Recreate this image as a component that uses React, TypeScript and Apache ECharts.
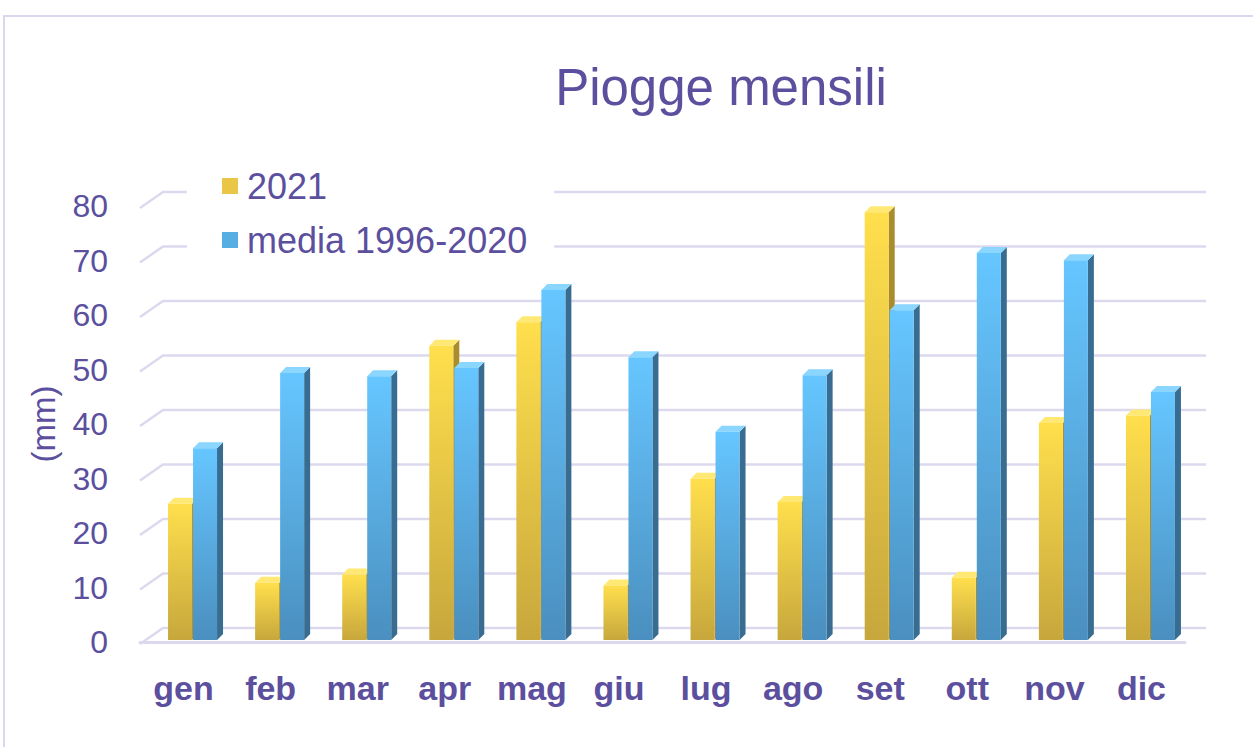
import React, { useEffect, useRef } from "react";
import * as echarts from "echarts";

const months = ["gen", "feb", "mar", "apr", "mag", "giu", "lug", "ago", "set", "ott", "nov", "dic"];
const rain2021 = [25, 10.5, 12, 54, 58.3, 10, 29.6, 25.3, 78.5, 11.4, 39.8, 41.2];
const media = [35.2, 49, 48.4, 49.9, 64.2, 51.9, 38.2, 48.6, 60.5, 71, 69.7, 45.5];
const yTicks = [0, 10, 20, 30, 40, 50, 60, 70, 80];

const TXT = "#5B4F9E";
const GRID = "#dcd9ef";

function makeBar(offset: number, front: any, side: string, top: string) {
  return (params: any, api: any) => {
    const idx = api.value(0);
    const v = api.value(1);
    const base = api.coord([idx, 0]);
    const tp = api.coord([idx, v]);
    const w = 24;
    const d = 6;
    const dh = 6;
    const x0 = base[0] + offset;
    const y0 = base[1] - 2;
    const y1 = tp[1] - 2;
    return {
      type: "group",
      children: [
        {
          type: "polygon",
          shape: { points: [[x0 + w, y1], [x0 + w + d, y1 - dh], [x0 + w + d, y0 - dh], [x0 + w, y0]] },
          style: { fill: side },
        },
        {
          type: "polygon",
          shape: { points: [[x0, y1], [x0 + d, y1 - dh], [x0 + w + d, y1 - dh], [x0 + w, y1]] },
          style: { fill: top },
        },
        {
          type: "rect",
          shape: { x: x0, y: y1, width: w, height: y0 - y1 },
          style: { fill: front },
        },
      ],
    };
  };
}

const yellowFront = new echarts.graphic.LinearGradient(0, 0, 0, 1, [
  { offset: 0, color: "#FFDF4C" },
  { offset: 1, color: "#C7A73C" },
]);
const blueFront = new echarts.graphic.LinearGradient(0, 0, 0, 1, [
  { offset: 0, color: "#66C6FF" },
  { offset: 1, color: "#4A8FBF" },
]);

export default function App() {
  const ref = useRef<HTMLDivElement>(null);
  useEffect(() => {
    document.body.style.margin = "0";
    const chart = echarts.init(ref.current!, null, { renderer: "svg" });
    const option: any = {
      animation: false,
      backgroundColor: "#ffffff",
      textStyle: { fontFamily: "Liberation Sans, Arial, sans-serif" },
      graphic: [
        {
          type: "rect",
          shape: { x: 4, y: 16, width: 1270, height: 760 },
          style: { fill: "none", stroke: "#d9d6ee", lineWidth: 2 },
          z: -10,
        },
      ],
      title: {
        text: "Piogge mensili",
        left: 716,
        textAlign: "center",
        top: 57,
        textStyle: { fontSize: 51, fontWeight: "normal", color: TXT, fontFamily: "Liberation Sans, Arial, sans-serif" },
      },
      legend: {
        orient: "vertical",
        left: 187,
        top: 160,
        padding: [8, 27, 8, 35],
        backgroundColor: "#ffffff",
        icon: "rect",
        itemWidth: 16,
        itemHeight: 16,
        itemGap: 18,
        data: ["2021", "media 1996-2020"],
        textStyle: { fontSize: 36, color: TXT, lineHeight: 35, padding: [0, 0, 0, 4] },
        z: 5,
      },
      grid: { left: 140, right: 68, top: 206, bottom: 105 },
      xAxis: {
        type: "category",
        data: months,
        offset: 2,
        axisTick: { show: false },
        axisLine: { show: true, lineStyle: { color: GRID, width: 3 } },
        axisLabel: { interval: 0, fontSize: 34, fontWeight: "bold", color: TXT, margin: 27 },
      },
      yAxis: {
        type: "value",
        min: 0,
        max: 80,
        interval: 10,
        name: "(mm)",
        nameLocation: "middle",
        nameGap: 80,
        nameRotate: 90,
        nameTextStyle: { fontSize: 33, color: TXT },
        axisLine: { show: false },
        axisTick: { show: false },
        splitLine: { show: false },
        axisLabel: { fontSize: 32, color: TXT, margin: 32 },
      },
      series: [
        {
          type: "custom",
          name: "wall",
          z: 1,
          silent: true,
          data: yTicks.map((t) => [0, t]),
          encode: { x: 0, y: 1 },
          renderItem: (params: any, api: any) => {
            const cs = params.coordSys;
            const y = api.coord([0, api.value(1)])[1];
            return {
              type: "polyline",
              shape: { points: [[cs.x, y + 2], [cs.x + 23, y - 14], [cs.x + cs.width + 21, y - 14]] },
              style: { stroke: GRID, lineWidth: 2.5, fill: "none" },
            };
          },
        },
        {
          type: "custom",
          name: "2021",
          z: 3,
          itemStyle: { color: "#E9C645" },
          data: rain2021.map((v, i) => [i, v]),
          encode: { x: 0, y: 1 },
          renderItem: makeBar(-15.5, yellowFront, "#A98C2C", "#FFE873"),
        },
        {
          type: "custom",
          name: "media 1996-2020",
          z: 3,
          itemStyle: { color: "#56AEE2" },
          data: media.map((v, i) => [i, v]),
          encode: { x: 0, y: 1 },
          renderItem: makeBar(9.5, blueFront, "#386C90", "#8AD6FF"),
        },
      ],
    };
    chart.setOption(option);
    return () => chart.dispose();
  }, []);
  return <div ref={ref} style={{ width: 1253, height: 747 }} />;
}
